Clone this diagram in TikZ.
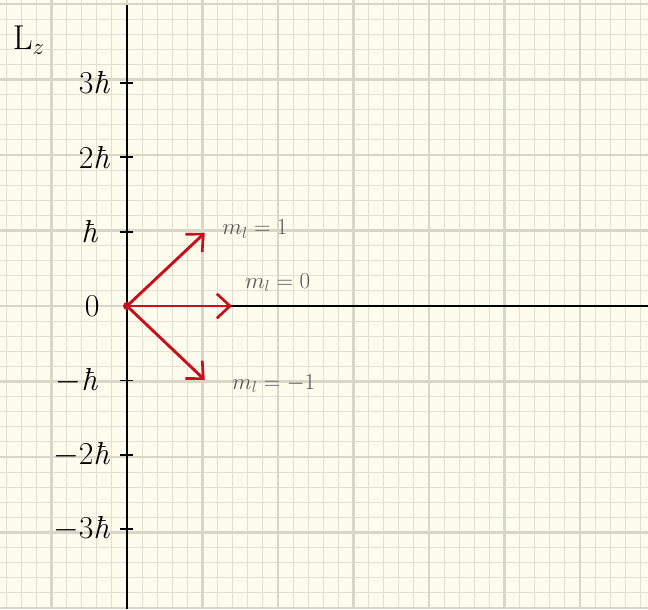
\documentclass[tikz,border=0pt]{standalone}
\usetikzlibrary{arrows.meta}
\definecolor{paper}{RGB}{254,252,237}
\definecolor{gridminor}{RGB}{226,224,210}
\definecolor{gridmajor}{RGB}{216,214,198}
\definecolor{vecred}{RGB}{200,16,28}
\definecolor{labgray}{RGB}{88,88,88}

\begin{document}
\begin{tikzpicture}[
    x=2cm, y=2cm,
    minorgrid/.style={gridminor, line width=0.8pt},
    majorgrid/.style={gridmajor, line width=1.6pt},
    axis/.style={black, line width=2.2pt},
    tickmark/.style={black, line width=1.3pt},
    vec/.style={-{Straight Barb[length=3.5mm, width=6.5mm, line width=2pt]},
                vecred, line width=2.2pt},
    tlabel/.style={anchor=east, inner sep=0pt, font=\fontsize{24}{28}\selectfont},
    mlabel/.style={anchor=west, inner sep=0pt, text=labgray,
                   font=\fontsize{17}{20}\selectfont}
]

    % --- Papel cuadriculado ---
    \fill[paper] (-1.682,-4.013) rectangle (6.90,4.053);
    \useasboundingbox (-1.682,-4.013) rectangle (6.90,4.053);
    \foreach \i in {-8,...,34}
        \draw[minorgrid] (\i*0.2, -4.013) -- (\i*0.2, 4.053);
    \foreach \j in {-20,...,20}
        \draw[minorgrid] (-1.682, \j*0.2) -- (6.90, \j*0.2);
    \foreach \i in {-1,...,6}
        \draw[majorgrid] (\i, -4.013) -- (\i, 4.053);
    \foreach \j in {-4,...,4}
        \draw[majorgrid] (-1.682, \j) -- (6.90, \j);

    % --- Ejes ---
    \coordinate (O)    at (0, 0);
    \coordinate (ytop) at (0, 3.99);
    \coordinate (ybot) at (0, -4.013);
    \coordinate (xend) at (6.90, 0);
    \draw[axis] (ytop) -- (ybot);
    \draw[axis] (O) -- (xend);

    \node[font=\fontsize{26}{30}\selectfont] (lz) at (-1.30, 3.52) {L$_z$};

    % --- Marcas y etiquetas ---
    \foreach \k/\txt in {3/3\textit{ħ}, 2/2\textit{ħ}, -2/$-$2\textit{ħ}, -3/$-$3\textit{ħ}} {
        \draw[tickmark] (-0.09, \k*0.985) -- (0.08, \k*0.985);
        \node[tlabel] (t\k) at (-0.22, \k*0.985) {\txt};
    }
    \foreach \k/\txt in {1/\textit{ħ}, -1/$-$\textit{ħ}} {
        \draw[tickmark] (-0.09, \k*0.985) -- (0.08, \k*0.985);
        \node[tlabel] (t\k) at (-0.38, \k*0.985) {\txt};
    }
    \node[tlabel] (t0) at (-0.36, 0) {0};

    % --- Vectores L ---
    \coordinate (up)   at (1.03, 0.97);
    \coordinate (mid)  at (1.39, 0);
    \coordinate (down) at (1.03, -0.98);
    \draw[vec] (O) -- (up);
    \draw[vec] (O) -- (mid);
    \draw[vec] (O) -- (down);
    \fill[vecred] (O) circle (3pt);

    \node[mlabel] (ml1)  at (1.26, 1.02)  {$m_l = 1$};
    \node[mlabel] (ml0)  at (1.56, 0.31)  {$m_l = 0$};
    \node[mlabel] (mlm1) at (1.39, -1.03) {$m_l = -1$};

\end{tikzpicture}
\end{document}
